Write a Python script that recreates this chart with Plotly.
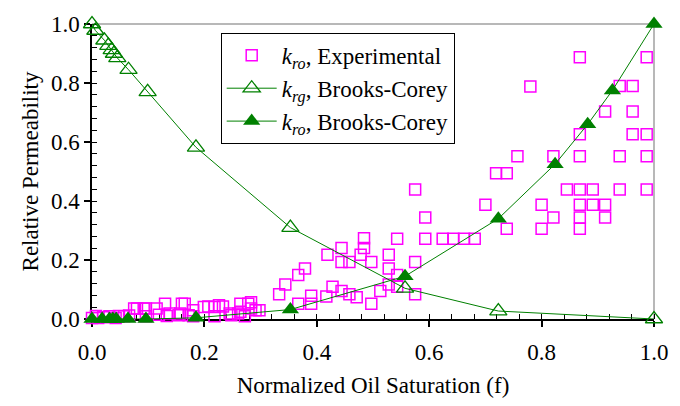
import plotly.graph_objects as go

# Brooks-Corey gas relative permeability (open triangles)
f_rg = [0.0, 0.006, 0.022, 0.029, 0.035, 0.039, 0.045, 0.065, 0.099, 0.185, 0.353, 0.557, 0.723, 1.0]
krg_bc = [1.0, 0.978, 0.945, 0.927, 0.912, 0.900, 0.885, 0.845, 0.770, 0.582, 0.310, 0.104, 0.027, 0.0]

# Brooks-Corey oil relative permeability (filled triangles)
f_ro = [0.0, 0.018, 0.031, 0.037, 0.043, 0.064, 0.096, 0.185, 0.353, 0.557, 0.723, 0.824, 0.882, 0.926, 1.0]
kro_bc = [0.0, 0.0, 0.0, 0.0, 0.0, 0.0, 0.0, 0.004, 0.032, 0.145, 0.340, 0.525, 0.660, 0.775, 1.0]

# Experimental oil relative permeability (open squares)
f_exp = [
    0.868, 0.987, 0.780, 0.939, 0.962, 0.913, 0.962, 0.868, 0.962, 0.987,
    0.757, 0.821, 0.868, 0.939, 0.987, 0.719, 0.738, 0.575, 0.845, 0.868,
    0.891, 0.939, 0.987, 0.700, 0.800, 0.868, 0.891, 0.913, 0.593, 0.821,
    0.868, 0.913, 0.738, 0.800, 0.868, 0.543, 0.593, 0.624, 0.643, 0.662,
    0.681, 0.484, 0.484, 0.444, 0.419, 0.478, 0.528, 0.444, 0.458, 0.497,
    0.575, 0.379, 0.367, 0.528, 0.543, 0.344, 0.333, 0.428, 0.444, 0.458,
    0.471, 0.528, 0.513, 0.543, 0.575, 0.390, 0.390, 0.367, 0.417, 0.497,
    0.000, 0.011, 0.031, 0.042, 0.057, 0.080, 0.096, 0.115, 0.096, 0.119,
    0.130, 0.138, 0.157, 0.165, 0.180, 0.180, 0.199, 0.218, 0.226, 0.218,
    0.245, 0.264, 0.283, 0.264, 0.283, 0.291, 0.272, 0.298, 0.075, 0.092,
    0.160, 0.133, 0.154, 0.172, 0.207, 0.233, 0.248, 0.260, 0.278, 0.007,
    0.048, 0.020, 0.066,
]
kro_exp = [
    0.887, 0.887, 0.788, 0.790, 0.790, 0.703, 0.703, 0.626, 0.626, 0.626,
    0.552, 0.552, 0.552, 0.552, 0.552, 0.494, 0.494, 0.439, 0.439, 0.439,
    0.439, 0.439, 0.439, 0.387, 0.387, 0.387, 0.387, 0.387, 0.344, 0.344,
    0.344, 0.344, 0.306, 0.306, 0.306, 0.272, 0.272, 0.272, 0.272, 0.272,
    0.272, 0.274, 0.241, 0.241, 0.218, 0.218, 0.218, 0.193, 0.193, 0.193,
    0.193, 0.171, 0.149, 0.171, 0.149, 0.117, 0.084, 0.109, 0.095, 0.084,
    0.074, 0.117, 0.095, 0.109, 0.084, 0.079, 0.052, 0.052, 0.076, 0.052,
    0.003, 0.003, 0.009, 0.003, 0.009, 0.036, 0.036, 0.036, 0.009, 0.014,
    0.052, 0.019, 0.019, 0.052, 0.030, 0.009, 0.041, 0.041, 0.047, 0.009,
    0.019, 0.052, 0.057, 0.025, 0.036, 0.030, 0.009, 0.030, 0.036, 0.036,
    0.052, 0.010, 0.013, 0.013, 0.042, 0.042, 0.013, 0.019, 0.052, 0.010,
    0.010, 0.006, 0.012,
]

x_ticks = [0.0, 0.2, 0.4, 0.6, 0.8, 1.0]
y_ticks = [0.0, 0.2, 0.4, 0.6, 0.8, 1.0]
tick_text = ["0.0", "0.2", "0.4", "0.6", "0.8", "1.0"]

GREEN = "#008000"
MAGENTA = "#FF00FF"
FONT = "'Liberation Serif', 'Times New Roman', serif"

fig = go.Figure()

fig.add_trace(go.Scatter(
    x=f_exp, y=kro_exp, mode="markers",
    name="<i>k</i><sub><i>ro</i></sub>, Experimental",
    marker=dict(symbol="square-open", size=11, color=MAGENTA, line=dict(width=1.5, color=MAGENTA)),
    cliponaxis=False,
))
fig.add_trace(go.Scatter(
    x=f_rg, y=krg_bc, mode="lines+markers",
    name="<i>k</i><sub><i>rg</i></sub>, Brooks-Corey",
    line=dict(color=GREEN, width=1),
    marker=dict(symbol="triangle-up-open", size=15, color=GREEN, line=dict(width=1.3, color=GREEN)),
    cliponaxis=False,
))
fig.add_trace(go.Scatter(
    x=f_ro, y=kro_bc, mode="lines+markers",
    name="<i>k</i><sub><i>ro</i></sub>, Brooks-Corey",
    line=dict(color=GREEN, width=1),
    marker=dict(symbol="triangle-up", size=15, color=GREEN, line=dict(width=0)),
    cliponaxis=False,
))

axis_common = dict(
    range=[0, 1], showgrid=False, zeroline=False,
    showline=True, linecolor="black", linewidth=1.5,
    ticks="outside", ticklen=6, tickwidth=1.5, tickcolor="black",
    tickfont=dict(family=FONT, size=23, color="black"),
    tickvals=x_ticks, ticktext=tick_text,
    minor=dict(ticks="inside", ticklen=5, tickwidth=1.2, tickcolor="black", dtick=0.04, tick0=0),
    layer="below traces",
)

# overlay axes draw the inner half of each major tick
inner_ticks = dict(
    range=[0, 1], showgrid=False, zeroline=False, showline=False,
    ticks="inside", ticklen=5, tickwidth=1.5, tickcolor="black",
    tickvals=x_ticks, showticklabels=False, layer="below traces",
)

fig.update_layout(
    width=680, height=406,
    margin=dict(l=92, r=22, t=13, b=85),
    paper_bgcolor="white", plot_bgcolor="white",
    font=dict(family=FONT, color="black"),
    xaxis=dict(**axis_common, ticklabelstandoff=6,
               title=dict(text="Normalized Oil Saturation (f)", font=dict(family=FONT, size=23), standoff=13)),
    yaxis=dict(**axis_common,
               title=dict(text="Relative Permeability", font=dict(family=FONT, size=23), standoff=6)),
    xaxis2=dict(**inner_ticks, overlaying="x", anchor="y"),
    yaxis2=dict(**inner_ticks, overlaying="y", anchor="x", side="left"),
    legend=dict(
        x=0.229, y=0.97, xanchor="left", yanchor="top",
        bgcolor="white", bordercolor="black", borderwidth=1,
        font=dict(family=FONT, size=23, color="black"),
        itemsizing="trace", tracegroupgap=0, itemwidth=50,
    ),
    showlegend=True,
    shapes=[
        dict(type="line", xref="x domain", yref="y domain", x0=0, x1=1, y0=1, y1=1,
             line=dict(color="#a0a0a0", width=1.5), layer="below"),
        dict(type="line", xref="x domain", yref="y domain", x0=1, x1=1, y0=0, y1=1,
             line=dict(color="#a0a0a0", width=1.5), layer="below"),
    ],
)

fig.write_html("out.html")
